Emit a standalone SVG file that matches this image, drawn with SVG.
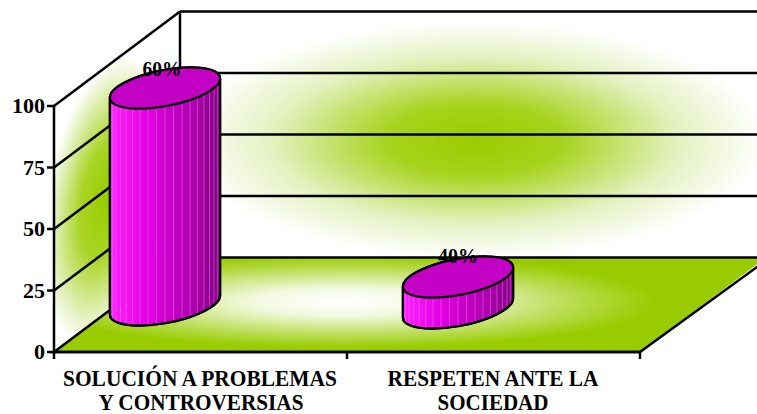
<svg xmlns="http://www.w3.org/2000/svg" width="757" height="414" viewBox="0 0 757 414">
<style>
.edge{fill:none;stroke:#000;stroke-width:2.5}
.grid{fill:none;stroke:#000;stroke-width:2.5}
.cyl{stroke:#000;stroke-width:2.2}
.top{fill:#c400c4;stroke:#000;stroke-width:2.2}
.stripe{stroke:#ff80ff;stroke-width:0.8;opacity:0.55}
.t{font-family:"Liberation Serif","Times New Roman",serif;font-weight:bold;fill:#000}
.ax{font-size:21px;text-anchor:end}
.cat{font-size:23px;text-anchor:middle}
.pct{font-size:21px;text-anchor:middle}
</style>
<defs>
<radialGradient id="gBack" gradientUnits="userSpaceOnUse" cx="0" cy="0" r="1" gradientTransform="translate(475 140) scale(290 118)">
<stop offset="0" stop-color="#99cc00"/>
<stop offset="0.3" stop-color="#a6d31c"/>
<stop offset="0.7" stop-color="#e4f1c0"/>
<stop offset="1" stop-color="#ffffff"/>
</radialGradient>
<radialGradient id="gLeft" gradientUnits="userSpaceOnUse" cx="0" cy="0" r="1" gradientTransform="matrix(63 -47.3 0 135 105 200)">
<stop offset="0" stop-color="#99cc00"/>
<stop offset="0.4" stop-color="#a9d424"/>
<stop offset="0.85" stop-color="#eaf4cc"/>
<stop offset="1" stop-color="#ffffff"/>
</radialGradient>
<radialGradient id="gFloor" gradientUnits="userSpaceOnUse" cx="0" cy="0" r="1" gradientTransform="translate(345 302) scale(310 46)">
<stop offset="0" stop-color="#ffffff"/>
<stop offset="0.3" stop-color="#f3f9e0"/>
<stop offset="0.75" stop-color="#b7db4c"/>
<stop offset="1" stop-color="#99cc00"/>
</radialGradient>
<linearGradient id="gBody" x1="0" y1="0" x2="1" y2="0">
<stop offset="0" stop-color="#ff22ff"/>
<stop offset="0.35" stop-color="#e000e0"/>
<stop offset="0.75" stop-color="#b000b0"/>
<stop offset="1" stop-color="#800080"/>
</linearGradient>
<clipPath id="clip1"><path d="M109.9,97.6 L109.9,314.6 A56,18,-11,0,0,220.1,295.4 L220.1,78.4 A56,18,-11,0,0,109.9,97.6 Z"/></clipPath>
<clipPath id="clip2"><path d="M402.9,286.6 L402.9,317.6 A56,18,-11,0,0,513.1,298.4 L513.1,267.4 A56,18,-11,0,0,402.9,286.6 Z"/></clipPath>
</defs>

<g id="walls">
<rect x="180" y="11.5" width="600" height="246" fill="url(#gBack)"/>
<polygon points="54,106 180,11.5 180,257.5 54,352" fill="url(#gLeft)"/>
<polygon points="54,352 180,257.5 766,257.5 640,352" fill="url(#gFloor)"/>
</g>

<g id="gridlines">
<line class="grid" x1="180" y1="11.5" x2="760" y2="11.5"/>
<line class="grid" x1="180" y1="73" x2="760" y2="73"/>
<line class="grid" x1="180" y1="134.5" x2="760" y2="134.5"/>
<line class="grid" x1="180" y1="196" x2="760" y2="196"/>
<line class="grid" x1="54" y1="106" x2="180" y2="11.5"/>
<line class="grid" x1="54" y1="167.5" x2="180" y2="73"/>
<line class="grid" x1="54" y1="229" x2="180" y2="134.5"/>
<line class="grid" x1="54" y1="290.5" x2="180" y2="196"/>
<line class="edge" x1="180" y1="11.5" x2="180" y2="257.5"/>
<polygon class="edge" points="54,352 180,257.5 770,257.5 640,352"/>
</g>

<g id="axes">
<line class="edge" x1="54" y1="106" x2="54" y2="352"/>
<line class="edge" x1="47" y1="106" x2="54" y2="106"/>
<line class="edge" x1="47" y1="167.5" x2="54" y2="167.5"/>
<line class="edge" x1="47" y1="229" x2="54" y2="229"/>
<line class="edge" x1="47" y1="290.5" x2="54" y2="290.5"/>
<line class="edge" x1="47" y1="352" x2="54" y2="352"/>
<line class="edge" x1="54" y1="352" x2="640" y2="352"/>
<line class="edge" x1="54" y1="352" x2="54" y2="359"/>
<line class="edge" x1="347" y1="352" x2="347" y2="359"/>
<line class="edge" x1="640" y1="352" x2="640" y2="359"/>
<text class="t ax" x="45" y="113" textLength="33" lengthAdjust="spacingAndGlyphs">100</text>
<text class="t ax" x="45" y="174.5" textLength="22" lengthAdjust="spacingAndGlyphs">75</text>
<text class="t ax" x="45" y="236" textLength="22" lengthAdjust="spacingAndGlyphs">50</text>
<text class="t ax" x="45" y="297.5" textLength="22" lengthAdjust="spacingAndGlyphs">25</text>
<text class="t ax" x="45" y="359" textLength="11" lengthAdjust="spacingAndGlyphs">0</text>
</g>

<g id="bar1">
<path class="cyl" fill="url(#gBody)" d="M109.9,97.6 L109.9,314.6 A56,18,-11,0,0,220.1,295.4 L220.1,78.4 A56,18,-11,0,0,109.9,97.6 Z"/>
<g clip-path="url(#clip1)">
<path class="stripe" d="M110.7,60V340M112.7,60V340M116,60V340M120.5,60V340M126.1,60V340M132.7,60V340M140,60V340M148,60V340M156.4,60V340M165,60V340M173.6,60V340M182,60V340M190,60V340M197.3,60V340M203.9,60V340M209.5,60V340M214,60V340M217.3,60V340M219.3,60V340"/>
</g>
<path class="cyl" fill="none" d="M109.9,97.6 L109.9,314.6 A56,18,-11,0,0,220.1,295.4 L220.1,78.4"/>
<ellipse class="top" cx="165" cy="88" rx="56" ry="18" transform="rotate(-11 165 88)"/>
<text class="t pct" x="162" y="75.5" textLength="39" lengthAdjust="spacingAndGlyphs">60%</text>
</g>

<g id="bar2">
<path class="cyl" fill="url(#gBody)" d="M402.9,286.6 L402.9,317.6 A56,18,-11,0,0,513.1,298.4 L513.1,267.4 A56,18,-11,0,0,402.9,286.6 Z"/>
<g clip-path="url(#clip2)">
<path class="stripe" d="M403.7,250V340M405.7,250V340M409,250V340M413.5,250V340M419.1,250V340M425.7,250V340M433,250V340M441,250V340M449.4,250V340M458,250V340M466.6,250V340M475,250V340M483,250V340M490.3,250V340M496.9,250V340M502.5,250V340M507,250V340M510.3,250V340M512.3,250V340"/>
</g>
<path class="cyl" fill="none" d="M402.9,286.6 L402.9,317.6 A56,18,-11,0,0,513.1,298.4 L513.1,267.4"/>
<ellipse class="top" cx="458" cy="277" rx="56" ry="18" transform="rotate(-11 458 277)"/>
<text class="t pct" x="458" y="262.5" textLength="40" lengthAdjust="spacingAndGlyphs">40%</text>
</g>

<g id="labels">
<text class="t cat" x="200" y="386" textLength="274" lengthAdjust="spacingAndGlyphs">SOLUCIÓN A PROBLEMAS</text>
<text class="t cat" x="201" y="410" textLength="205" lengthAdjust="spacingAndGlyphs">Y CONTROVERSIAS</text>
<text class="t cat" x="493" y="386" textLength="211" lengthAdjust="spacingAndGlyphs">RESPETEN ANTE LA</text>
<text class="t cat" x="493" y="410" textLength="111" lengthAdjust="spacingAndGlyphs">SOCIEDAD</text>
</g>
</svg>
